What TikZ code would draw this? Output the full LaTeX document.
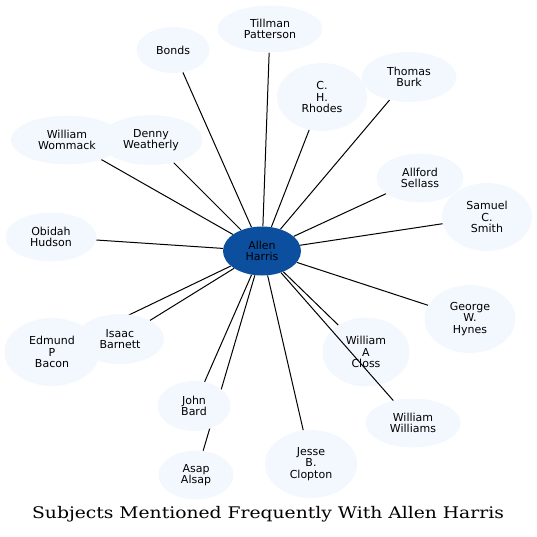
\documentclass[tikz,border=0pt]{standalone}
\usepackage{fontspec}
\usepackage{xcolor}
\usepackage{tikz}
\usetikzlibrary{shapes.geometric, backgrounds}
\newfontfamily\namefont{DejaVu Sans}
\newfontfamily\titlefont[FakeStretch=1.17]{DejaVu Serif}
\definecolor{hubblue}{HTML}{0B4F9E}
\definecolor{namefill}{HTML}{F3F8FE}

\begin{document}
\begin{tikzpicture}[x=1pt, y=-1pt,
    person/.style={ellipse, fill=namefill, inner sep=0pt, align=center,
                   font=\namefont\fontsize{11}{11.6}\selectfont},
    hub/.style={person, fill=hubblue},
    link/.style={line width=1pt, black}
  ]
    \useasboundingbox (0,0) rectangle (537,536);

    % Hub
    \node[hub, minimum width=78, minimum height=49] (allen) at (262,251) {Allen\\Harris};

    % Outer names
    \node[person, minimum width=105, minimum height=47] (tillman) at (270,29) {Tillman\\Patterson};
    \node[person, minimum width=73, minimum height=46] (bonds) at (173,50) {Bonds};
    \node[person, minimum width=90, minimum height=68] (rhodes) at (322,97) {C.\\H.\\Rhodes};
    \node[person, minimum width=95, minimum height=50] (burk) at (409,77) {Thomas\\Burk};
    \node[person, minimum width=87, minimum height=49] (sellass) at (420,178) {Allford\\Sellass};
    \node[person, minimum width=90, minimum height=68] (smith) at (487,217) {Samuel\\C.\\Smith};
    \node[person, minimum width=112, minimum height=49] (wommack) at (67,140) {William\\Wommack};
    \node[person, minimum width=103, minimum height=50] (weatherly) at (151,140) {Denny\\Weatherly};
    \node[person, minimum width=91, minimum height=49] (hudson) at (51,237) {Obidah\\Hudson};
    \node[person, minimum width=95, minimum height=68] (bacon) at (52,352) {Edmund\\P\\Bacon};
    \node[person, minimum width=88, minimum height=50] (barnett) at (120,339) {Isaac\\Barnett};
    \node[person, minimum width=73, minimum height=50] (bard) at (194,406) {John\\Bard};
    \node[person, minimum width=75, minimum height=49] (alsap) at (196,475) {Asap\\Alsap};
    \node[person, minimum width=91, minimum height=68] (hynes) at (470,319) {George\\W.\\Hynes};
    \node[person, minimum width=87, minimum height=69] (closs) at (366,352) {William\\A\\Closs};
    \node[person, minimum width=95, minimum height=49] (williams) at (413,423) {William\\Williams};
    \node[person, minimum width=92, minimum height=68] (clopton) at (311,464) {Jesse\\B.\\Clopton};

    % Links
    \begin{pgfonlayer}{background}
      \foreach \other in {tillman, bonds, rhodes, burk, sellass, smith, wommack, weatherly,
                          hudson, bacon, barnett, bard, alsap, hynes, closs, clopton}
        \draw[link] (allen) -- (\other);
    \end{pgfonlayer}
    \draw[link] (allen) -- (williams);

    % Title
    \node[font=\titlefont\fontsize{16}{19}\selectfont] (title) at (268,514)
      {Subjects Mentioned Frequently With Allen Harris};
\end{tikzpicture}
\end{document}
